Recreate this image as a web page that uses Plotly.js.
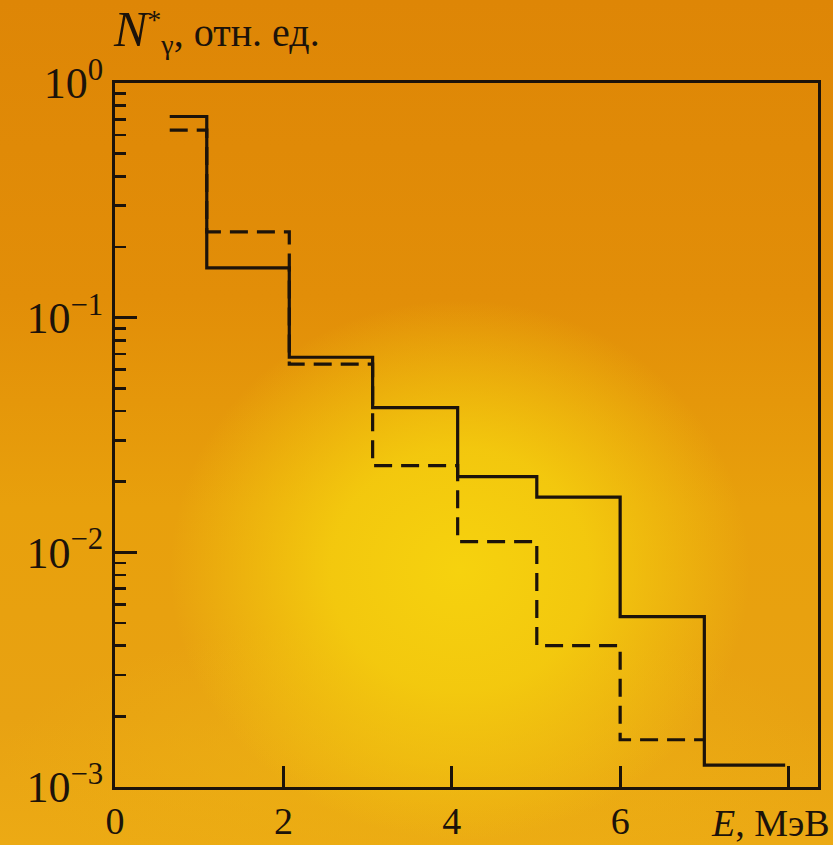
<!DOCTYPE html>
<html>
<head>
<meta charset="utf-8">
<script src="https://cdn.plot.ly/plotly-3.0.1.min.js"></script>
<style>
  html, body { margin: 0; padding: 0; }
  #wrap {
    width: 833px; height: 845px; position: relative; overflow: hidden;
    background:
      radial-gradient(ellipse 290px 270px at 460px 570px, rgba(246,210,14,1) 0%, rgba(244,204,14,0.9) 45%, rgba(240,190,14,0) 100%),
      radial-gradient(ellipse 420px 140px at 420px 760px, rgba(236,176,18,0.9) 0%, rgba(236,176,18,0) 100%),
      linear-gradient(180deg, rgb(222,134,6) 0%, rgb(226,142,8) 35%, rgb(232,160,12) 60%, rgb(232,162,18) 85%, rgb(236,170,20) 100%);
  }
  #chart { width: 833px; height: 845px; }
</style>
</head>
<body>
<div id="wrap"><div id="chart"></div></div>
<script>
// Bin edges (МэВ) and relative intensities
const solidEdges = [0.65, 1.09, 2.07, 3.06, 4.07, 5.01, 6.0, 7.0, 7.96];
const solidValues = [0.72, 0.163, 0.0678, 0.0414, 0.021, 0.0172, 0.00532, 0.00124];

const dashedEdges = [0.65, 1.09, 2.07, 3.06, 4.07, 5.01, 6.0, 7.0];
const dashedValues = [0.63, 0.232, 0.0634, 0.0234, 0.0111, 0.0040, 0.00159];

const xTickVals = [0, 2, 4, 6, 8];
const xTickText = ["0", "2", "4", "6", ""];
const yTickVals = [0.001, 0.01, 0.1, 1];
const yTickText = ["10<sup>−3</sup>", "10<sup>−2</sup>", "10<sup>−1</sup>", "10<sup>0</sup>"];

function stepXY(edges, values) {
  // hv step: each value held across its bin, last value repeated at final edge
  return { x: edges.slice(), y: values.concat([values[values.length - 1]]) };
}

const minorVals = [];
for (let e = -3; e < 0; e++) {
  for (let m = 2; m <= 9; m++) minorVals.push(m * Math.pow(10, e));
}

const ink = "#1c130a";
const s = stepXY(solidEdges, solidValues);
const d = stepXY(dashedEdges, dashedValues);

const traces = [
  { x: s.x, y: s.y, mode: "lines", line: { shape: "hv", color: ink, width: 3.2 }, hoverinfo: "skip" },
  { x: d.x, y: d.y, mode: "lines", line: { shape: "hv", color: ink, width: 3.2, dash: "18px,9px" }, hoverinfo: "skip" }
];

const layout = {
  width: 833, height: 845,
  margin: { l: 115, r: 15, t: 83, b: 58 },
  paper_bgcolor: "rgba(0,0,0,0)",
  plot_bgcolor: "rgba(0,0,0,0)",
  showlegend: false,
  font: { family: "Liberation Serif, serif", color: ink },
  xaxis: {
    range: [0, 8.35], showgrid: false, zeroline: false,
    showline: true, linewidth: 3, linecolor: ink, mirror: true,
    ticks: "inside", ticklen: 21, tickwidth: 3, tickcolor: ink,
    tickmode: "array", tickvals: xTickVals, ticktext: xTickText,
    ticklabelstandoff: -2,
    tickfont: { family: "Liberation Serif, serif", size: 38, color: ink }
  },
  yaxis: {
    type: "log", range: [-3, 0], showgrid: false, zeroline: false,
    showline: true, linewidth: 3, linecolor: ink, mirror: true,
    ticks: "inside", ticklen: 22, tickwidth: 3, tickcolor: ink,
    tickmode: "array", tickvals: yTickVals, ticktext: yTickText,
    tickfont: { family: "Liberation Serif, serif", size: 44, color: ink },
    minor: { tickmode: "array", tickvals: minorVals, ticks: "inside", ticklen: 11, tickwidth: 2.5, tickcolor: ink, showgrid: false }
  },
  annotations: [
    {
      xref: "paper", yref: "paper", x: -0.005, y: 1.03, xanchor: "left", yanchor: "bottom",
      text: "<span style='font-size:50px'><i>N</i></span><sup>*</sup><sub>γ</sub>, отн. ед.",
      showarrow: false, font: { family: "Liberation Serif, serif", size: 40, color: ink }
    },
    {
      xref: "paper", yref: "paper", x: 1.02, y: -0.018, xanchor: "right", yanchor: "top",
      text: "<i>E</i>, МэВ",
      showarrow: false, font: { family: "Liberation Serif, serif", size: 38, color: ink }
    }
  ]
};

Plotly.newPlot("chart", traces, layout, { displayModeBar: false, staticPlot: true });
</script>
</body>
</html>
